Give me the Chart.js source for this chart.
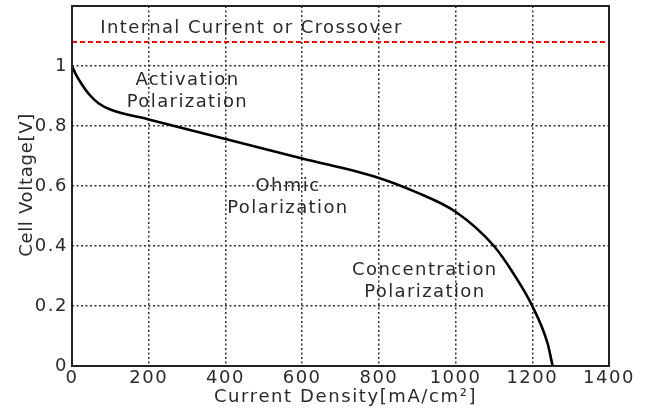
<!DOCTYPE html>
<html><head><meta charset="utf-8">
<script src="https://cdn.jsdelivr.net/npm/chart.js@4/dist/chart.umd.min.js"></script>
<style>html,body{margin:0;padding:0;background:#fff}#wrap{width:645px;height:410px}</style>
</head><body><div id="wrap"><canvas id="c" width="645" height="410"></canvas></div>
<script>
const currentDensity = [0, 10, 25, 45, 70, 100, 200, 400, 600, 800, 900, 1000, 1100, 1150, 1200, 1240, 1253];
const cellVoltage    = [1.0, 0.972, 0.94, 0.905, 0.875, 0.855, 0.822, 0.757, 0.692, 0.627, 0.578, 0.514, 0.40, 0.31, 0.20, 0.075, 0.0];
const crossoverX = [0, 1400];
const crossoverY = [1.08, 1.08];
const xTicks = [0, 200, 400, 600, 800, 1000, 1200, 1400];
const yTicks = [0, 0.2, 0.4, 0.6, 0.8, 1];
const xTitle = 'Current Density[mA/cm²]';
const yTitle = 'Cell Voltage[V]';
const labels = [
  {lines: ["Internal Current or Crossover"], x: 468, y: 1.11},
  {lines: ["Activation", "Polarization"], x: 301, y: 0.937},
  {lines: ["Ohmic", "Polarization"], x: 563, y: 0.583},
  {lines: ["Concentration", "Polarization"], x: 920, y: 0.303}
];
const FONT = "DejaVu Sans";
const TXT = "#2a2a2a";

const spacingPlugin = {
  id: 'spacing',
  beforeDraw(chart) { chart.ctx.letterSpacing = '1.5px'; }
};

const labelPlugin = {
  id: 'labels',
  afterDraw(chart) {
    const {ctx, scales:{x, y}, chartArea:a} = chart;
    ctx.save();
    ctx.fillStyle = TXT;
    ctx.font = "18px '" + FONT + "'";
    ctx.textAlign = 'center';
    ctx.textBaseline = 'alphabetic';
    ctx.letterSpacing = '1.4px';
    labels.forEach(l => {
      const px = x.getPixelForValue(l.x);
      const py = y.getPixelForValue(l.y);
      l.lines.forEach((t, i) => ctx.fillText(t, px, py + i * 22));
    });
    ctx.letterSpacing = '1.6px';
    ctx.fillText(xTitle, (a.left + a.right) / 2 + 5, 402);
    ctx.save();
    ctx.translate(32, 185);
    ctx.rotate(-Math.PI / 2);
    ctx.letterSpacing = '0.7px';
    ctx.fillText(yTitle, 0, 0);
    ctx.restore();
    ctx.letterSpacing = '0px';
    ctx.strokeStyle = '#222';
    ctx.lineWidth = 2;
    ctx.strokeRect(a.left, a.top, a.right - a.left, a.bottom - a.top);
    ctx.restore();
  }
};

const gridColor = (edges) => c => (c.tick && edges.includes(c.tick.value)) ? 'rgba(0,0,0,0)' : '#333';

new Chart(document.getElementById('c'), {
  type: 'scatter',
  data: {
    datasets: [
      {data: crossoverX.map((v, i) => ({x: v, y: crossoverY[i]})), showLine: true, borderColor: '#ff0000', borderWidth: 2, borderDash: [5, 3], pointRadius: 0},
      {data: currentDensity.map((v, i) => ({x: v, y: cellVoltage[i]})), showLine: true, borderColor: '#000', borderWidth: 2.6, pointRadius: 0, cubicInterpolationMode: 'monotone'}
    ]
  },
  options: {
    responsive: false, animation: false, devicePixelRatio: 1,
    layout: {padding: {top: 6, right: 36, left: 0, bottom: 0}},
    plugins: {legend: {display: false}, tooltip: {enabled: false}},
    scales: {
      x: {
        min: 0, max: 1400,
        afterBuildTicks: s => { s.ticks = xTicks.map(v => ({value: v})); },
        afterFit: s => { s.height = 44; s.paddingLeft = 0; s.paddingRight = 0; },
        ticks: {color: TXT, font: {family: FONT, size: 18}, padding: 2, maxRotation: 0, callback: v => String(v)},
        grid: {color: gridColor([0, 1400]), lineWidth: 1.5, drawTicks: false},
        border: {display: false, dash: [2, 2.5]}
      },
      y: {
        min: 0, max: 1.2,
        afterBuildTicks: s => { s.ticks = yTicks.concat([1.2]).map(v => ({value: v})); },
        afterFit: s => { s.width = 72; s.paddingTop = 0; s.paddingBottom = 0; },
        ticks: {color: TXT, font: {family: FONT, size: 18}, padding: 4, callback: v => v === 1.2 ? '' : String(v)},
        grid: {color: gridColor([0, 1.2]), lineWidth: 1.5, drawTicks: false},
        border: {display: false, dash: [2, 2.5]}
      }
    }
  },
  plugins: [spacingPlugin, labelPlugin]
});
</script></body></html>
